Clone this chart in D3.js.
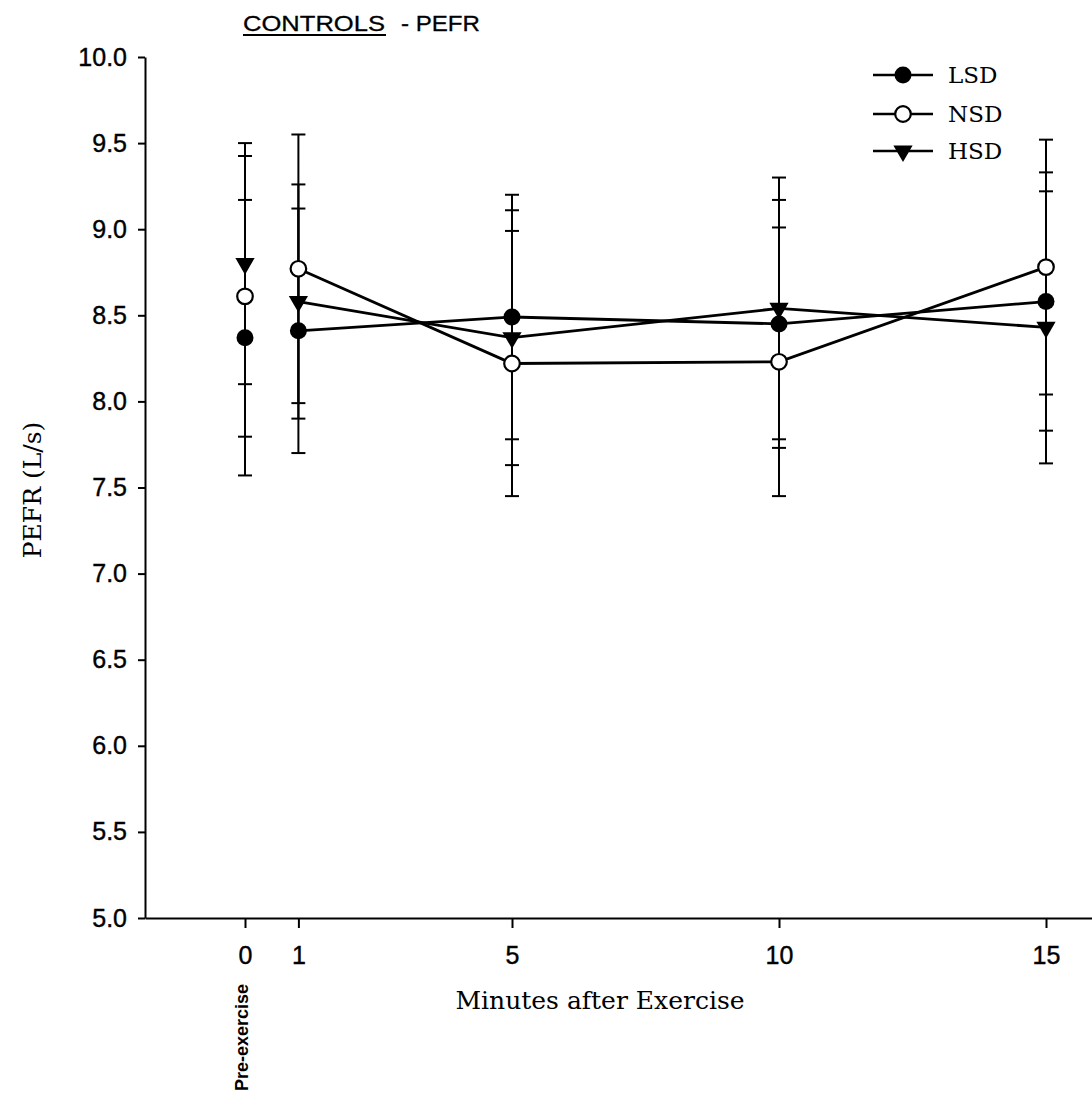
<!DOCTYPE html>
<html>
<head>
<meta charset="utf-8">
<script src="https://cdn.jsdelivr.net/npm/d3@7/dist/d3.min.js"></script>
<style>
  html, body { margin: 0; padding: 0; background: #fff; }
  svg { display: block; }
</style>
</head>
<body>
<svg id="chart" width="1092" height="1098"></svg>
<script>
// Peak expiratory flow after exercise, controls group: mean ± SD per diet
const timePoints = [0, 1, 5, 10, 15];          // minutes after exercise (0 = pre-exercise)
const xTickValues = [0, 1, 5, 10, 15];
const yTickValues = [5.0, 5.5, 6.0, 6.5, 7.0, 7.5, 8.0, 8.5, 9.0, 9.5, 10.0];

const seriesNames = ["LSD", "NSD", "HSD"];
const lsdMean = [8.37, 8.41, 8.49, 8.45, 8.58];
const lsdSD   = [0.80, 0.71, 0.71, 0.72, 0.75];
const nsdMean = [8.61, 8.77, 8.22, 8.23, 8.78];
const nsdSD   = [0.815, 0.78, 0.77, 0.78, 0.74];
const hsdMean = [8.80, 8.58, 8.37, 8.54, 8.43];
const hsdSD   = [0.70, 0.68, 0.74, 0.76, 0.79];

const series = [
  { name: seriesNames[0], mean: lsdMean, sd: lsdSD, marker: "filled" },
  { name: seriesNames[1], mean: nsdMean, sd: nsdSD, marker: "open" },
  { name: seriesNames[2], mean: hsdMean, sd: hsdSD, marker: "triangle" }
];

const svg = d3.select("#chart");
const axisLeftX = 145, axisRightX = 1092, axisBottomY = 918;

const x = d3.scaleLinear().domain([0, 15]).range([245, 1046]);
const xAxisScale = x.copy()
  .domain([x.invert(axisLeftX), x.invert(axisRightX)])
  .range([axisLeftX, axisRightX]);
const y = d3.scaleLinear().domain([5, 10]).range([axisBottomY, 57]);

const sansFont = "'Liberation Sans', Arial, sans-serif";
const serifFont = "'DejaVu Serif', 'Liberation Serif', serif";

// Title
svg.append("text")
  .attr("x", 243).attr("y", 31)
  .attr("font-family", sansFont).attr("font-size", 22)
  .attr("stroke", "#000").attr("stroke-width", 0.3)
  .attr("textLength", 142).attr("lengthAdjust", "spacingAndGlyphs")
  .text("CONTROLS");
svg.append("line")
  .attr("x1", 243).attr("x2", 386).attr("y1", 35).attr("y2", 35)
  .attr("stroke", "#000").attr("stroke-width", 1.8);
svg.append("text")
  .attr("x", 401).attr("y", 31)
  .attr("font-family", sansFont).attr("font-size", 22)
  .attr("stroke", "#000").attr("stroke-width", 0.3)
  .attr("textLength", 79).attr("lengthAdjust", "spacingAndGlyphs")
  .text("- PEFR");

// Axes
const yAxis = svg.append("g")
  .attr("transform", `translate(${axisLeftX},0)`)
  .call(d3.axisLeft(y).tickValues(yTickValues).tickFormat(d3.format(".1f"))
    .tickSize(7).tickSizeOuter(0).tickPadding(11));
yAxis.selectAll("text")
  .attr("font-family", sansFont).attr("font-size", 25).attr("fill", "#000")
  .attr("stroke", "#000").attr("stroke-width", 0.4);
yAxis.selectAll("line, path").attr("stroke", "#000").attr("stroke-width", 2);

const xAxis = svg.append("g")
  .attr("transform", `translate(0,${axisBottomY})`)
  .call(d3.axisBottom(xAxisScale).tickValues(xTickValues).tickFormat(d3.format("d"))
    .tickSize(10).tickSizeOuter(0).tickPadding(18));
xAxis.selectAll("text")
  .attr("font-family", sansFont).attr("font-size", 25).attr("fill", "#000")
  .attr("stroke", "#000").attr("stroke-width", 0.4);
xAxis.selectAll("line, path").attr("stroke", "#000").attr("stroke-width", 2);

// Axis titles
svg.append("text")
  .attr("transform", `translate(${x(0) + 3},984) rotate(-90)`)
  .attr("text-anchor", "end")
  .attr("font-family", sansFont).attr("font-size", 18).attr("font-weight", "bold")
  .text("Pre-exercise");

svg.append("text")
  .attr("x", 600).attr("y", 1009)
  .attr("text-anchor", "middle")
  .attr("font-family", serifFont).attr("font-size", 25)
  .text("Minutes after Exercise");

svg.append("text")
  .attr("transform", "translate(41,490) rotate(-90)")
  .attr("text-anchor", "middle")
  .attr("font-family", serifFont).attr("font-size", 25)
  .text("PEFR (L/s)");

// Error bars: one vertical bar per diet and time point, capped at mean ± SD
const capHalf = 7;
const plot = svg.append("g");
series.forEach(s => {
  const g = plot.append("g").attr("stroke", "#000").attr("stroke-width", 2);
  timePoints.forEach((t, i) => {
    const hi = s.mean[i] + s.sd[i], lo = s.mean[i] - s.sd[i];
    g.append("line").attr("x1", x(t)).attr("x2", x(t)).attr("y1", y(hi)).attr("y2", y(lo));
    g.append("line").attr("x1", x(t) - capHalf).attr("x2", x(t) + capHalf).attr("y1", y(hi)).attr("y2", y(hi));
    g.append("line").attr("x1", x(t) - capHalf).attr("x2", x(t) + capHalf).attr("y1", y(lo)).attr("y2", y(lo));
  });
});

// Lines join the post-exercise points (1 to 15 min)
const line = d3.line().x(d => x(d.t)).y(d => y(d.v));
series.forEach(s => {
  const pts = timePoints.map((t, i) => ({ t, v: s.mean[i] })).filter(d => d.t >= 1);
  plot.append("path").datum(pts)
    .attr("d", line).attr("fill", "none")
    .attr("stroke", "#000").attr("stroke-width", 2.8);
});

// Markers
const triangle = d3.symbol().type(d3.symbolTriangle).size(160);
function drawMarker(g, kind, cx, cy) {
  if (kind === "filled") {
    g.append("circle").attr("cx", cx).attr("cy", cy).attr("r", 8.5).attr("fill", "#000");
  } else if (kind === "open") {
    g.append("circle").attr("cx", cx).attr("cy", cy).attr("r", 7.8)
      .attr("fill", "#fff").attr("stroke", "#000").attr("stroke-width", 2.2);
  } else {
    g.append("path").attr("d", triangle)
      .attr("transform", `translate(${cx},${cy}) rotate(180)`)
      .attr("fill", "#000");
  }
}
series.forEach(s => {
  timePoints.forEach((t, i) => drawMarker(plot, s.marker, x(t), y(s.mean[i])));
});

// Legend
const legendRows = [75, 114, 151];
series.forEach((s, i) => {
  const ly = legendRows[i];
  svg.append("line").attr("x1", 873).attr("x2", 933).attr("y1", ly).attr("y2", ly)
    .attr("stroke", "#000").attr("stroke-width", 2.4);
  drawMarker(svg, s.marker, 903, ly);
  svg.append("text")
    .attr("x", 948).attr("y", ly).attr("dy", "0.36em")
    .attr("font-family", serifFont).attr("font-size", 23)
    .text(s.name);
});
</script>
</body>
</html>
